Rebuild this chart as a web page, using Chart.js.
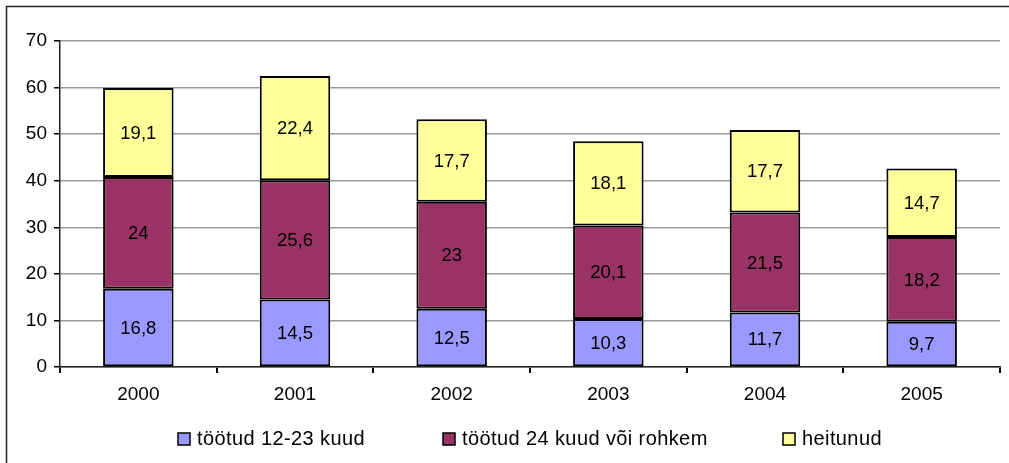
<!DOCTYPE html>
<html>
<head>
<meta charset="utf-8">
<script src="https://cdn.jsdelivr.net/npm/chart.js@4"></script>
<style>
  html, body { margin: 0; padding: 0; background: #fff; }
  #wrap { width: 1009px; height: 463px; }
</style>
</head>
<body>
<div id="wrap"><canvas id="chart" width="1009" height="463"></canvas></div>
<script>
// andmed
const years = ['2000', '2001', '2002', '2003', '2004', '2005'];
const seriesNames = ['töötud 12-23 kuud', 'töötud 24 kuud või rohkem', 'heitunud'];
const tootud1223 = [16.8, 14.5, 12.5, 10.3, 11.7, 9.7];
const tootud24 = [24, 25.6, 23, 20.1, 21.5, 18.2];
const heitunud = [19.1, 22.4, 17.7, 18.1, 17.7, 14.7];
const yTicks = [0, 10, 20, 30, 40, 50, 60, 70];

const FONT = '"Liberation Sans", Arial, sans-serif';
const colors = ['#9999FF', '#993366', '#FFFF99'];

// raam ümber graafiku
const framePlugin = {
    id: 'frame',
    beforeDraw(chart) {
        const ctx = chart.ctx;
        ctx.save();
        ctx.strokeStyle = '#222';
        ctx.lineWidth = 1.5;
        ctx.strokeRect(6.5, 6.5, 1100, 600);
        ctx.restore();
    }
};

// väärtused tulpade sees
const valueLabels = {
    id: 'valueLabels',
    afterDatasetsDraw(chart) {
        const ctx = chart.ctx;
        ctx.save();
        ctx.font = '18.5px ' + FONT;
        ctx.fillStyle = '#000';
        ctx.textAlign = 'center';
        ctx.textBaseline = 'middle';
        chart.data.datasets.forEach((ds, i) => {
            chart.getDatasetMeta(i).data.forEach((bar, j) => {
                const p = bar.getCenterPoint();
                ctx.fillText(String(ds.data[j]).replace('.', ','), p.x, p.y + 1);
            });
        });
        ctx.restore();
    }
};

// legend all
const bottomLegend = {
    id: 'bottomLegend',
    afterDraw(chart) {
        const ctx = chart.ctx;
        const starts = [178, 443, 783];
        const y = 439;
        ctx.save();
        ctx.font = '20px ' + FONT;
        ctx.letterSpacing = '0.4px';
        ctx.textBaseline = 'middle';
        ctx.textAlign = 'left';
        chart.data.datasets.forEach((ds, i) => {
            const x = starts[i];
            ctx.fillStyle = ds.backgroundColor;
            ctx.fillRect(x, y - 6, 12, 12);
            ctx.strokeStyle = '#000';
            ctx.lineWidth = 1.5;
            ctx.strokeRect(x, y - 6, 12, 12);
            ctx.fillStyle = '#000';
            ctx.fillText(ds.label, x + 19, y);
        });
        ctx.restore();
    }
};

new Chart(document.getElementById('chart'), {
    type: 'bar',
    data: {
        labels: years,
        datasets: [
            { label: seriesNames[0], data: tootud1223, backgroundColor: colors[0] },
            { label: seriesNames[1], data: tootud24, backgroundColor: colors[1] },
            { label: seriesNames[2], data: heitunud, backgroundColor: colors[2] }
        ].map(d => Object.assign(d, {
            borderColor: '#000',
            borderWidth: 2,
            borderSkipped: false,
            barPercentage: 0.45,
            categoryPercentage: 1
        }))
    },
    options: {
        responsive: false,
        animation: false,
        layout: { padding: { top: 41, right: 9, left: 0, bottom: 0 } },
        plugins: {
            legend: { display: false },
            tooltip: { enabled: false }
        },
        scales: {
            x: {
                stacked: true,
                offset: true,
                afterFit(scale) { scale.height = 96; },
                grid: {
                    offset: true,
                    drawOnChartArea: true,
                    color: (c) => c.index === years.length ? '#888' : 'rgba(0,0,0,0)',
                    lineWidth: 2,
                    tickColor: '#000',
                    tickLength: 6
                },
                border: { color: '#222', width: 1.5 },
                ticks: { color: '#000', font: { size: 19, family: FONT }, padding: 10 }
            },
            y: {
                stacked: true,
                min: 0,
                max: 70,
                afterFit(scale) { scale.width = 60; },
                afterBuildTicks(scale) { scale.ticks = yTicks.map(v => ({ value: v })); },
                grid: {
                    color: '#999',
                    lineWidth: 1.5,
                    tickColor: '#000',
                    tickLength: 6
                },
                border: { color: '#222', width: 1.5 },
                ticks: { color: '#000', font: { size: 19, family: FONT }, padding: 7 }
            }
        }
    },
    plugins: [framePlugin, valueLabels, bottomLegend]
});
</script>
</body>
</html>
